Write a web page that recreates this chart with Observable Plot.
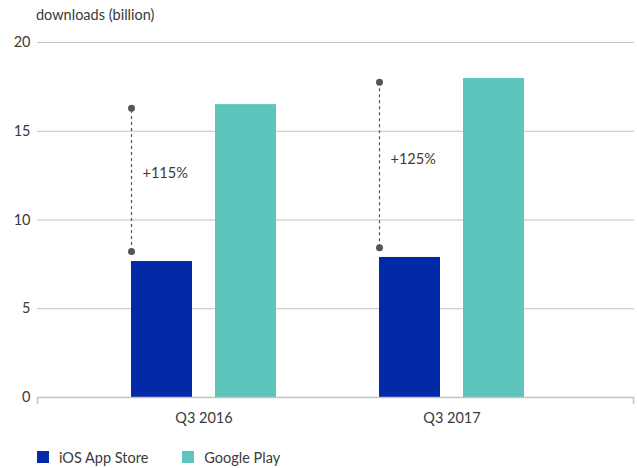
<!DOCTYPE html>
<html>
<head>
<meta charset="utf-8">
<script src="https://cdn.jsdelivr.net/npm/d3@7"></script>
<script src="https://cdn.jsdelivr.net/npm/@observablehq/plot@0.6"></script>
<style>
  html, body { margin: 0; padding: 0; background: #fff; }
  body { font-family: Lato, "Open Sans", sans-serif; color: #3a3a3a; width: 637px; }
  #title { height: 30px; line-height: 30px; padding-left: 36px; font-size: 14.5px; color: #3a3a3a; }
  #legend { display: flex; align-items: center; height: 24px; margin-top: 13px; padding-left: 37px; font-size: 14.5px; color: #3a3a3a; }
  .sw { width: 12px; height: 12px; margin-right: 10px; display: inline-block; }
  .item { display: flex; align-items: center; margin-right: 34px; }
</style>
</head>
<body>
<div id="title"></div>
<div id="chart"></div>
<div id="legend"></div>
<script>
// ---- data ----
const quarters = ["Q3 2016", "Q3 2017"];
const seriesNames = ["iOS App Store", "Google Play"];
const seriesColors = ["#0229a8", "#5ec5bd"];
const iosValues = [7.66, 7.89];
const googleValues = [16.5, 17.97];
const connectorLow = [8.23, 8.43];
const connectorHigh = [16.3, 17.76];
const growthLabels = ["+115%", "+125%"];
const yTicks = [0, 5, 10, 15, 20];
const yLabel = "downloads (billion)";

// ---- layout ----
const W = 637, marginLeft = 37, marginRight = 3, marginTop = 12, marginBottom = 35, plotH = 355;
const barWidth = 61, barGap = 23;
const groupWidth = 2 * barWidth + barGap;

const ios = quarters.map((q, i) => ({quarter: q, value: iosValues[i]}));
const gp = quarters.map((q, i) => ({quarter: q, value: googleValues[i]}));
const conn = quarters.map((q, i) => ({quarter: q, low: connectorLow[i], high: connectorHigh[i], mid: (connectorLow[i] + connectorHigh[i]) / 2, label: growthLabels[i]}));
const dots = conn.flatMap(d => [{quarter: d.quarter, v: d.low}, {quarter: d.quarter, v: d.high}]);

function endTicks(index, scales, values, dims) {
  const g = d3.create("svg:g");
  const y0 = scales.y(0);
  for (const x of [dims.marginLeft + 0.5, dims.width - dims.marginRight - 0.5]) {
    g.append("line").attr("x1", x).attr("x2", x).attr("y1", y0).attr("y2", y0 + 7)
      .attr("stroke", "#c4c4c4").attr("stroke-width", 1.5);
  }
  return g.node();
}

const toLeft = -groupWidth / 2;

const chart = Plot.plot({
  width: W,
  height: marginTop + plotH + marginBottom,
  marginLeft, marginRight, marginTop, marginBottom,
  style: {fontFamily: "Lato, 'Open Sans', sans-serif", fontSize: "14.5px", color: "#3a3a3a", background: "#fff"},
  x: {domain: quarters, paddingInner: 0.4153, paddingOuter: 0.411, align: 0.46, label: null, tickSize: 0, tickPadding: 15},
  y: {domain: [0, 20], ticks: yTicks, label: null, tickSize: 0, tickPadding: 7},
  marks: [
    Plot.gridY(yTicks.filter(t => t > 0), {stroke: "#c4c4c4", strokeOpacity: 1, strokeWidth: 1.2}),
    Plot.barY(ios, {x: "quarter", y: "value", fill: seriesColors[0], insetRight: groupWidth - barWidth}),
    Plot.barY(gp, {x: "quarter", y: "value", fill: seriesColors[1], insetLeft: groupWidth - barWidth}),
    Plot.ruleY([0], {stroke: "#c4c4c4", strokeWidth: 1.5}),
    endTicks,
    Plot.ruleX(conn, {x: "quarter", y1: "low", y2: "high", dx: toLeft, stroke: "#555", strokeWidth: 1.2, strokeDasharray: "3,3"}),
    Plot.dot(dots, {x: "quarter", y: "v", dx: toLeft, r: 3.5, fill: "#555", stroke: "none"}),
    Plot.text(conn, {x: "quarter", y: "mid", text: "label", dx: toLeft + 11, dy: -6, textAnchor: "start", fill: "#3a3a3a", fontSize: 14.5})
  ]
});
document.getElementById("chart").appendChild(chart);

document.getElementById("title").textContent = yLabel;
const legend = document.getElementById("legend");
seriesNames.forEach((name, i) => {
  const item = document.createElement("span");
  item.className = "item";
  const sw = document.createElement("span");
  sw.className = "sw";
  sw.style.background = seriesColors[i];
  item.appendChild(sw);
  item.appendChild(document.createTextNode(name));
  legend.appendChild(item);
});
</script>
</body>
</html>
